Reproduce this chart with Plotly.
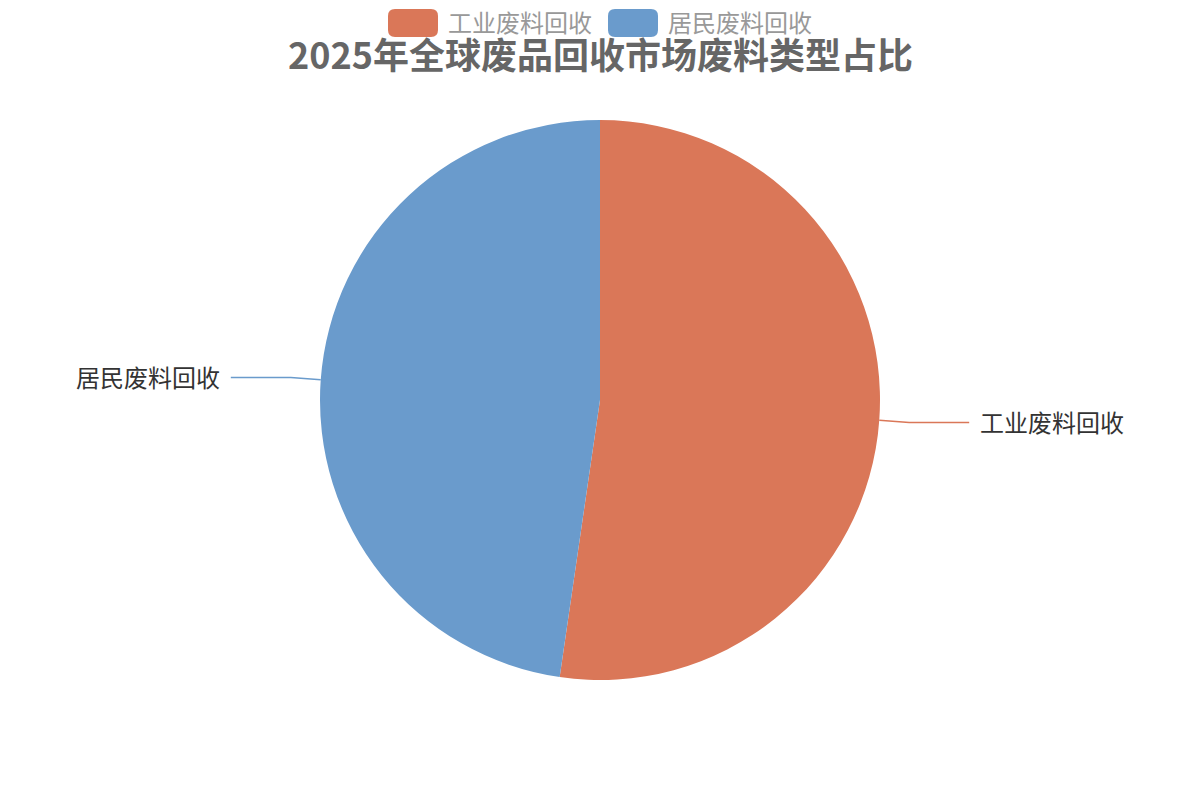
import math
import plotly.graph_objects as go

# ---- data ----
categories = ["工业废料回收", "居民废料回收"]
values = [52.3, 47.7]
colors = ["#DA7758", "#6A9BCC"]
title_text = "2025年全球废品回收市场废料类型占比"

W, H = 1200, 800
CX, CY, R = 600, 400, 280
LEN1, LEN2, GAP = 30, 60, 9
FONT = "Noto Sans CJK SC, Microsoft YaHei, sans-serif"


def px(x):
    return x / W


def py(y):
    return 1 - y / H


fig = go.Figure(
    go.Pie(
        labels=categories,
        values=values,
        sort=False,
        direction="clockwise",
        rotation=0,
        marker=dict(colors=colors, line=dict(width=0)),
        textinfo="none",
        hoverinfo="label+value+percent",
        showlegend=False,
        domain=dict(x=[px(CX - R), px(CX + R)], y=[py(CY + R), py(CY - R)]),
    )
)

shapes = []
annotations = []

# leader lines and outside labels computed from the data
total = sum(values)
start = 0.0
for lab, v, c in zip(categories, values, colors):
    span = v / total * 360.0
    mid = math.radians(start + span / 2)
    start += span
    sx, sy = math.sin(mid), -math.cos(mid)
    x0, y0 = CX + R * sx, CY + R * sy
    x1, y1 = CX + (R + LEN1) * sx, CY + (R + LEN1) * sy
    side = 1 if sx >= 0 else -1
    x2, y2 = x1 + side * LEN2, y1
    shapes.append(
        dict(
            type="path",
            xref="paper",
            yref="paper",
            path=f"M {px(x0)},{py(y0)} L {px(x1)},{py(y1)} L {px(x2)},{py(y2)}",
            line=dict(color=c, width=1.5),
        )
    )
    annotations.append(
        dict(
            x=px(x2 + side * GAP),
            y=py(y2 - 1),
            xref="paper",
            yref="paper",
            text=lab,
            showarrow=False,
            xanchor="left" if side > 0 else "right",
            yanchor="middle",
            font=dict(size=24, color="#333333", family=FONT),
        )
    )

# custom legend (rounded rect icons)
legend_items = [(388, 446), (608, 666)]
icon_w, icon_h, icon_top, rad = 50, 28, 9, 7
for (ix, tx), lab, c in zip(legend_items, categories, colors):
    xa, xb = ix, ix + icon_w
    ya, yb = icon_top, icon_top + icon_h
    path = (
        f"M {px(xa + rad)},{py(ya)} L {px(xb - rad)},{py(ya)} "
        f"Q {px(xb)},{py(ya)} {px(xb)},{py(ya + rad)} "
        f"L {px(xb)},{py(yb - rad)} Q {px(xb)},{py(yb)} {px(xb - rad)},{py(yb)} "
        f"L {px(xa + rad)},{py(yb)} Q {px(xa)},{py(yb)} {px(xa)},{py(yb - rad)} "
        f"L {px(xa)},{py(ya + rad)} Q {px(xa)},{py(ya)} {px(xa + rad)},{py(ya)} Z"
    )
    shapes.append(
        dict(type="path", xref="paper", yref="paper", path=path,
             fillcolor=c, line=dict(width=0))
    )
    annotations.append(
        dict(
            x=px(tx), y=py(icon_top + icon_h / 2 - 1), xref="paper", yref="paper",
            text=lab, showarrow=False, xanchor="left", yanchor="middle",
            font=dict(size=24, color="#999999", family=FONT),
        )
    )

# title
annotations.append(
    dict(
        x=0.5, y=py(53), xref="paper", yref="paper",
        text=f"<b>{title_text}</b>", showarrow=False,
        xanchor="center", yanchor="middle",
        font=dict(size=36, color="#666666", family=FONT),
    )
)

fig.update_layout(
    width=W,
    height=H,
    margin=dict(l=0, r=0, t=0, b=0),
    paper_bgcolor="white",
    plot_bgcolor="white",
    shapes=shapes,
    annotations=annotations,
    showlegend=False,
)

fig.write_html(
    "out.html",
    config={"displayModeBar": False},
    post_script="document.body.style.margin='0';document.body.style.padding='0';",
)
